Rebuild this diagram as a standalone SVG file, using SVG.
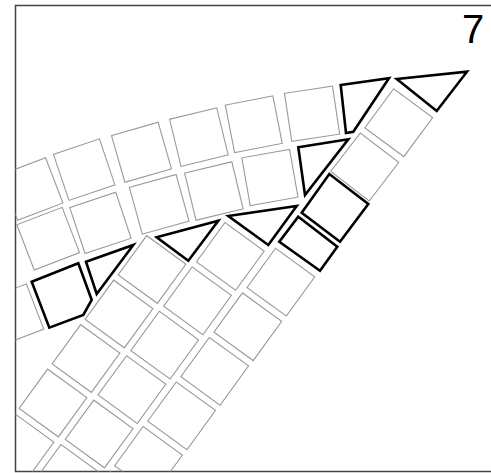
<svg xmlns="http://www.w3.org/2000/svg" width="491" height="473" viewBox="0 0 491 473">
<style>
.g{fill:none;stroke:#9a9a9a;stroke-width:1.1}
.k{fill:none;stroke:#000;stroke-width:2.6;stroke-linejoin:miter}
.lbl{font-family:"Liberation Sans",Arial,sans-serif;font-size:40px;fill:#000}
</style>
<defs>
<clipPath id="fr"><rect x="15.5" y="5.5" width="480" height="466"/></clipPath>
<rect id="sq" x="-24.25" y="-24.25" width="48.5" height="48.5"/>
</defs>
<rect x="15.5" y="5.5" width="480" height="466" fill="#fff" stroke="#444" stroke-width="1.5"/>
<g clip-path="url(#fr)">
<g id="upper-row1" class="g">
<use href="#sq" transform="translate(31.6,189) rotate(-21)"/>
<use href="#sq" transform="translate(84.2,169.6) rotate(-18.7)"/>
<use href="#sq" transform="translate(141.5,152.2) rotate(-16)"/>
<use href="#sq" transform="translate(198.9,137.1) rotate(-13.6)"/>
<use href="#sq" transform="translate(253.75,124.25) rotate(-11.1)"/>
<use href="#sq" transform="translate(312.1,113.75) rotate(-8.6)"/>
</g>
<g id="upper-row2" class="g">
<use href="#sq" transform="translate(48.2,238.7) rotate(-21)"/>
<use href="#sq" transform="translate(100.4,222.9) rotate(-18.4)"/>
<use href="#sq" transform="translate(159.2,204.3) rotate(-15.5)"/>
<use href="#sq" transform="translate(213.9,191) rotate(-13.5)"/>
<use href="#sq" transform="translate(269.9,177.5) rotate(-10)"/>
</g>
<g id="upper-row3" class="g">
<use href="#sq" transform="translate(12.4,315.2) rotate(-21)"/>
</g>
<g id="lower-colL" class="g">
<use href="#sq" transform="translate(152,269.5) rotate(36)"/>
<use href="#sq" transform="translate(119,314) rotate(36)"/>
<use href="#sq" transform="translate(86,358.5) rotate(36)"/>
<use href="#sq" transform="translate(53,403) rotate(36)"/>
<use href="#sq" transform="translate(20,447.5) rotate(36)"/>
</g>
<g id="lower-colM" class="g">
<use href="#sq" transform="translate(230.3,256.4) rotate(36)"/>
<use href="#sq" transform="translate(197.5,300.8) rotate(36)"/>
<use href="#sq" transform="translate(164.7,345.2) rotate(36)"/>
<use href="#sq" transform="translate(131.9,389.6) rotate(36)"/>
<use href="#sq" transform="translate(99.1,434) rotate(36)"/>
<use href="#sq" transform="translate(66.3,478.4) rotate(36)"/>
</g>
<g id="lower-colR" class="g">
<use href="#sq" transform="translate(280.9,282.2) rotate(36)"/>
<use href="#sq" transform="translate(247.8,326.75) rotate(36)"/>
<use href="#sq" transform="translate(214.7,371.3) rotate(36)"/>
<use href="#sq" transform="translate(181.6,415.85) rotate(36)"/>
<use href="#sq" transform="translate(148.5,460.4) rotate(36)"/>
<use href="#sq" transform="translate(115.4,504.95) rotate(36)"/>
<use href="#sq" transform="translate(364.75,166.9) rotate(37.5)"/>
<use href="#sq" transform="translate(398.75,122.7) rotate(36.5)"/>
</g>
<g id="cut-pieces" class="k">
<polygon points="340.7,85 389,78.3 353.3,131.7 346,133"/>
<polygon points="396.7,79 467,71.7 436.7,111"/>
<polygon points="298.3,147.3 348.3,139.3 305,195"/>
<polygon points="329.3,174 368.3,204 340,241.7 301.7,212.7"/>
<polygon points="298.3,216.7 337.3,246.7 320,270.7 279.3,241.7"/>
<polygon points="228.3,216 296.7,206 268.3,245"/>
<polygon points="156.7,237.3 218.3,220.7 188.3,260.7"/>
<polygon points="86,261.7 133.3,245 96.7,294"/>
<polygon points="31.7,281.7 78.3,263.3 91.7,300 83.3,315 49.3,327.7"/>
</g>
</g>
<text class="lbl" x="462" y="43">7</text>
</svg>
